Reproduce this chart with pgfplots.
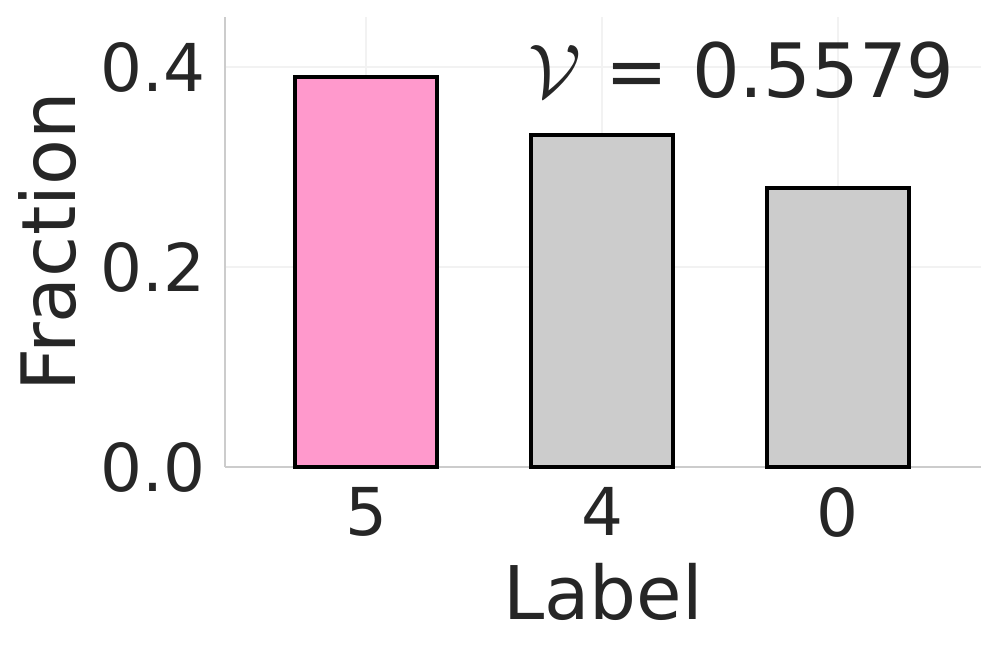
\documentclass[border=0pt]{standalone}
\usepackage{graphicx}
\usepackage{fontspec}
\setmainfont{DejaVu Sans}
\usepackage{pgfplots}
\pgfplotsset{compat=1.18}
\definecolor{txt}{HTML}{262626}
\definecolor{spine}{HTML}{CCCCCC}
\definecolor{gridc}{HTML}{F2F2F2}
\definecolor{pinkc}{HTML}{FF99CC}
\definecolor{grayc}{HTML}{CCCCCC}
\begin{document}
\begin{tikzpicture}
\begin{axis}[
  scale only axis,
  width=756pt, height=450pt,
  xmin=-0.5975, xmax=2.606,
  ymin=0, ymax=0.45,
  axis x line*=bottom, axis y line*=left,
  axis line style={color=spine, line width=2.5pt, -},
  xtick={0,1,2}, xticklabels={5,4,0},
  ytick={0,0.2,0.4},
  major tick length=0pt,
  xmajorgrids, ymajorgrids,
  grid style={color=gridc, line width=1.5pt},
  /pgf/number format/assume math mode=true,
  yticklabel style={/pgf/number format/fixed, /pgf/number format/fixed zerofill, /pgf/number format/precision=1,
     font=\fontsize{66}{80}\selectfont, text=txt, inner sep=0pt, anchor=east, xshift=-19pt},
  xticklabel style={font=\fontsize{66}{80}\selectfont, text=txt, inner sep=0pt, anchor=north, yshift=-20pt},
  xlabel={Label},
  ylabel={Fraction},
  xlabel style={font=\fontsize{74}{90}\selectfont, text=txt, inner sep=0pt, at={(axis description cs:0.5,-0.34)}, anchor=base},
  ylabel style={font=\fontsize{75}{90}\selectfont, text=txt, inner sep=0pt, at={(axis description cs:-0.19709,0.5)}, anchor=base},
  clip=false,
]
\addplot[ybar, bar width=0.6, bar shift=0pt, fill=pinkc, draw=black, line width=3.5pt] coordinates {(0,0.390)};
\addplot[ybar, bar width=0.6, bar shift=0pt, fill=grayc, draw=black, line width=3.5pt] coordinates {(1,0.332) (2,0.279)};
\node[anchor=base east, inner sep=0pt, text=txt, font=\fontsize{75}{90}\selectfont] at (axis cs:2.495,0.369) {\resizebox{!}{52pt}{$\mathcal{V}$} = 0.5579};
\path (rel axis cs:0,0) ++(-225pt,-185pt) rectangle ++(997pt,652pt);
\end{axis}
\end{tikzpicture}
\end{document}
